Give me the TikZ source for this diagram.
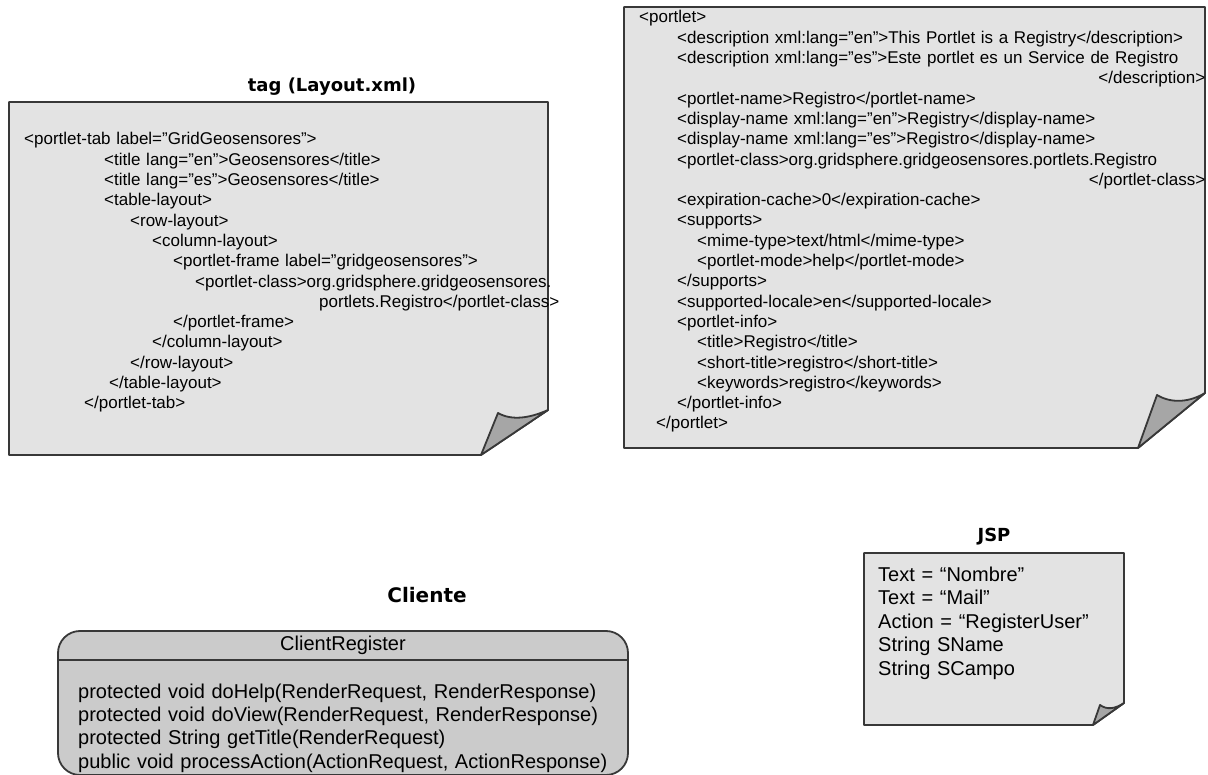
\documentclass[tikz,border=0pt]{standalone}
\usepackage{fontspec}
\setmainfont{Liberation Sans}
\newfontfamily\headfont{DejaVu Sans}

\definecolor{pageFill}{HTML}{E3E3E3}
\definecolor{foldFill}{HTML}{A6A6A6}
\definecolor{classFill}{HTML}{CBCBCB}
\definecolor{lineDark}{HTML}{383838}

\begin{document}
\begin{tikzpicture}[
  x=1pt,y=-1pt,
  page/.style={draw=lineDark,fill=pageFill,line width=1.8pt,line join=round},
  fold/.style={draw=lineDark,fill=foldFill,line width=1.8pt,line join=round},
  classbox/.style={draw=lineDark,fill=classFill,line width=1.8pt},
  heading/.style={anchor=base,inner sep=0pt,font=\headfont\bfseries\fontsize{18}{20}\selectfont},
  xml/.style={anchor=base west,inner sep=0pt,align=left,font=\fontsize{17}{20.3}\selectfont},
  plain/.style={anchor=base west,inner sep=0pt,align=left,font=\fontsize{20}{23.4}\selectfont},
  ]
  \useasboundingbox (0,0) rectangle (1208,775);

  % tag (Layout.xml)
  \node[heading] (layoutTitle) at (332,92) {tag (Layout.xml)};
  \draw[page] (9,102) -- (548,102) -- (548,410) -- (481,455) -- (9,455) -- cycle;
  \draw[fold] (481,455) -- (498,413) .. controls (512,421) and (530,418) .. (548,410) -- cycle;
  \node[xml,text width=535pt] (layoutText) at (24,145) {%
    <portlet-tab label="GridGeosensores">\\
    \hspace*{80pt}<title lang="en">Geosensores</title>\\
    \hspace*{80pt}<title lang="es">Geosensores</title>\\
    \hspace*{80pt}<table-layout>\\
    \hspace*{106pt}<row-layout>\\
    \hspace*{128pt}<column-layout>\\
    \hspace*{149pt}<portlet-frame label="gridgeosensores">\\
    \hspace*{171pt}<portlet-class>org.gridsphere.gridgeosensores.\\
    \hspace*{\fill}portlets.Registro</portlet-class>\\
    \hspace*{149pt}</portlet-frame>\\
    \hspace*{128pt}</column-layout>\\
    \hspace*{106pt}</row-layout>\\
    \hspace*{85pt}</table-layout>\\
    \hspace*{60pt}</portlet-tab>};

  % portlet.xml
  \draw[page] (624,7) -- (1205,7) -- (1205,393) -- (1138,448) -- (624,448) -- cycle;
  \draw[fold] (1138,448) -- (1157,395) .. controls (1172,404) and (1190,402) .. (1205,393) -- cycle;
  \node[xml,text width=566pt] (portletText) at (639,23) {%
    <portlet>\\
    \hspace*{38pt}<description xml:lang="en">This Portlet is a Registry</description>\\
    \hspace*{38pt}<description xml:lang="es">Este portlet es un Service de Registro\\
    \hspace*{\fill}</description>\hspace*{22pt}\\
    \hspace*{38pt}<portlet-name>Registro</portlet-name>\\
    \hspace*{38pt}<display-name xml:lang="en">Registry</display-name>\\
    \hspace*{38pt}<display-name xml:lang="es">Registro</display-name>\\
    \hspace*{38pt}<portlet-class>org.gridsphere.gridgeosensores.portlets.Registro\\
    \hspace*{\fill}</portlet-class>\\
    \hspace*{38pt}<expiration-cache>0</expiration-cache>\\
    \hspace*{38pt}<supports>\\
    \hspace*{58pt}<mime-type>text/html</mime-type>\\
    \hspace*{58pt}<portlet-mode>help</portlet-mode>\\
    \hspace*{38pt}</supports>\\
    \hspace*{38pt}<supported-locale>en</supported-locale>\\
    \hspace*{38pt}<portlet-info>\\
    \hspace*{58pt}<title>Registro</title>\\
    \hspace*{58pt}<short-title>registro</short-title>\\
    \hspace*{58pt}<keywords>registro</keywords>\\
    \hspace*{38pt}</portlet-info>\\
    \hspace*{17pt}</portlet>};

  % Cliente
  \node[heading,font=\headfont\bfseries\fontsize{20}{22}\selectfont] (clientTitle) at (427,602) {Cliente};
  \draw[classbox,rounded corners=22pt] (58,631) rectangle (628,775);
  \draw[classbox] (58,660) -- (628,660);
  \node[anchor=base,inner sep=0pt,font=\fontsize{20}{23.4}\selectfont] (clientHead) at (343,650) {ClientRegister};
  \node[plain,text width=545pt] (clientBody) at (78,698) {%
    protected void doHelp(RenderRequest, RenderResponse)\\
    protected void doView(RenderRequest, RenderResponse)\\
    protected String getTitle(RenderRequest)\\
    public void processAction(ActionRequest, ActionResponse)};

  % JSP
  \node[heading] (jspTitle) at (994,541) {JSP};
  \draw[page] (864,553) -- (1124,553) -- (1124,703) -- (1093,725) -- (864,725) -- cycle;
  \draw[fold] (1093,725) -- (1100,705) .. controls (1107,710) and (1115,709) .. (1124,703) -- cycle;
  \node[plain,text width=240pt,font=\fontsize{20}{23.5}\selectfont] (jspText) at (878,581) {%
    Text = “Nombre”\\
    Text = “Mail”\\
    Action = “RegisterUser”\\
    String SName\\
    String SCampo};
\end{tikzpicture}
\end{document}
